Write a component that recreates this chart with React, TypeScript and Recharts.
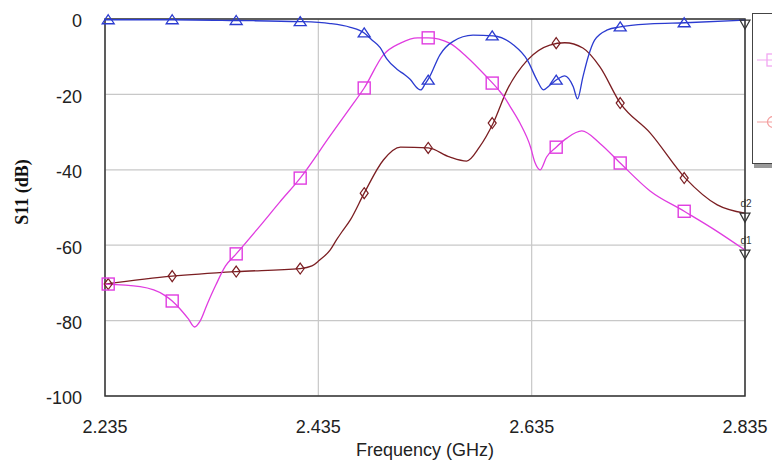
import React from 'react';
import {
  ComposedChart, Line, Scatter, XAxis, YAxis, CartesianGrid, ReferenceArea,
} from 'recharts';

// ---- data ----
const xTicks = [2.235, 2.435, 2.635, 2.835];
const yTicks = [0, -20, -40, -60, -80, -100];

const blueF = [2.235, 2.298, 2.358, 2.418, 2.446, 2.465, 2.478, 2.485, 2.493, 2.499, 2.509, 2.516, 2.521, 2.528, 2.531, 2.535, 2.539, 2.549, 2.561, 2.58, 2.599, 2.618, 2.631, 2.64, 2.646, 2.652, 2.659, 2.666, 2.674, 2.678, 2.683, 2.688, 2.694, 2.706, 2.718, 2.746, 2.779, 2.835];
const blueV = [-0.2, -0.2, -0.4, -0.7, -1.2, -2.2, -3.7, -5.5, -7.6, -10.5, -13.4, -14.8, -16, -18.4, -18.8, -17.3, -15.5, -9.5, -6, -4.3, -4.5, -6.9, -10.9, -16.2, -18.8, -17.6, -16, -15.1, -18, -21.2, -15.4, -10, -5.6, -2.9, -2.1, -1.3, -1.0, -0.3];

const pinkF = [2.235, 2.268, 2.291, 2.298, 2.305, 2.313, 2.319, 2.324, 2.331, 2.339, 2.348, 2.358, 2.38, 2.399, 2.418, 2.446, 2.465, 2.478, 2.496, 2.512, 2.528, 2.538, 2.558, 2.574, 2.593, 2.604, 2.61, 2.615, 2.624, 2.634, 2.638, 2.643, 2.649, 2.658, 2.668, 2.682, 2.699, 2.718, 2.746, 2.778, 2.807, 2.835];
const pinkV = [-70.3, -71, -73.3, -74.8, -76.8, -79.5, -81.7, -80.2, -75.5, -70.5, -65.5, -62.3, -55, -48.5, -42.2, -31, -23.5, -18.3, -9.5, -6.4, -5, -5, -6.4, -10, -15.4, -18.8, -21, -23.3, -27.6, -34, -38, -40, -36.6, -34, -31.6, -29.7, -33, -38.2, -45.6, -51, -56, -61.3];

const brownF = [2.235, 2.298, 2.358, 2.418, 2.429, 2.436, 2.446, 2.452, 2.457, 2.465, 2.478, 2.496, 2.512, 2.538, 2.558, 2.574, 2.586, 2.599, 2.612, 2.631, 2.652, 2.666, 2.683, 2.699, 2.718, 2.746, 2.779, 2.809, 2.835];
const brownV = [-70.3, -68.2, -67, -66.2, -65.5, -64, -61.3, -58.6, -56.5, -53.3, -46.2, -37.4, -34, -34.2, -36.6, -37.7, -34, -27.6, -18.8, -10.9, -6.9, -6.3, -7.7, -12.7, -22.3, -30.2, -42.2, -49.3, -51.5];

const markerF = [2.238, 2.298, 2.358, 2.418, 2.478, 2.538, 2.598, 2.658, 2.718, 2.778];
const blueMarkV = [-0.2, -0.2, -0.4, -0.7, -3.7, -16.2, -4.5, -16.2, -2.1, -1.0];
const pinkMarkV = [-70.3, -74.8, -62.3, -42.2, -18.3, -5, -17, -34, -38.2, -51];
const brownMarkV = [-70.3, -68.2, -67, -66.2, -46.2, -34.2, -27.6, -6.4, -22.3, -42.2];

const endF = [2.835, 2.835, 2.835];
const endV = [-61.3, -51.5, -0.3];
const endLabels = ['d1', 'd2', ''];

const BLUE = '#2b3bd0';
const PINK = '#e03ce0';
const BROWN = '#7b1e22';

const zip = (f: number[], v: number[]) => f.map((x, i) => ({ f: x, v: v[i] }));
const blueData = zip(blueF, blueV);
const pinkData = zip(pinkF, pinkV);
const brownData = zip(brownF, brownV);
const blueMarks = zip(markerF, blueMarkV);
const pinkMarks = zip(markerF, pinkMarkV);
const brownMarks = zip(markerF, brownMarkV);
const endData = endF.map((x, i) => ({ f: x, v: endV[i], label: endLabels[i] }));

const TriUp = (p: any) => (
  <path d={`M${p.cx},${p.cy - 5} L${p.cx + 6},${p.cy + 4} L${p.cx - 6},${p.cy + 4} Z`} fill="none" stroke={BLUE} strokeWidth={1.3} />
);
const Square = (p: any) => (
  <rect x={p.cx - 6} y={p.cy - 6} width={12} height={12} fill="none" stroke={PINK} strokeWidth={1.4} />
);
const Diamond = (p: any) => (
  <path d={`M${p.cx},${p.cy - 5.5} L${p.cx + 4},${p.cy} L${p.cx},${p.cy + 5.5} L${p.cx - 4},${p.cy} Z`} fill="none" stroke={BROWN} strokeWidth={1.2} />
);
const TriDown = (p: any) => (
  <g>
    <path d={`M${p.cx - 5},${p.cy} L${p.cx + 5},${p.cy} L${p.cx},${p.cy + 9} Z`} fill="none" stroke="#333" strokeWidth={1.2} />
    {p.payload && p.payload.label ? (
      <text x={p.cx + 1} y={p.cy - 6} textAnchor="middle" fontSize={10} fill="#333" fontFamily="Liberation Sans, Arial, sans-serif">{p.payload.label}</text>
    ) : null}
  </g>
);

const YLabel = () => (
  <text x={22} y={192} transform="rotate(-90 22 192)" textAnchor="middle" dominantBaseline="central"
    fontFamily="Liberation Serif, Times New Roman, serif" fontWeight="bold" fontSize={18} fill="#111">S11 (dB)</text>
);

const tickStyle = { fontSize: 18, fill: '#222', fontFamily: 'Liberation Sans, Arial, sans-serif' };

export default function App() {
  return (
    <div style={{ position: 'absolute', left: 0, top: 0, width: 772, height: 462, background: '#fff' }}>
      <ComposedChart width={772} height={462} margin={{ top: 19, right: 27, bottom: 0, left: 0 }}>
        <CartesianGrid stroke="#c8c8c8" strokeWidth={1.2} />
        <XAxis type="number" dataKey="f" domain={[2.235, 2.835]} ticks={xTicks}
          tickFormatter={(v: number) => v.toFixed(3)} height={66} tickLine={false} tickSize={0} tickMargin={24}
          axisLine={false} tick={tickStyle} interval={0}
          label={{ value: 'Frequency (GHz)', position: 'insideBottom', offset: 6, style: { fontSize: 18, fill: '#222', fontFamily: 'Liberation Sans, Arial, sans-serif' } }} />
        <YAxis type="number" dataKey="v" domain={[-100, 0]} ticks={yTicks} width={105}
          tickLine={false} tickSize={0} tickMargin={23} axisLine={false} tick={{ ...tickStyle, dy: 2 }} interval={0}
          label={<YLabel />} />
        <Line data={brownData} dataKey="v" type="monotone" stroke={BROWN} strokeWidth={1.3} dot={false} isAnimationActive={false} />
        <Line data={pinkData} dataKey="v" type="monotone" stroke={PINK} strokeWidth={1.3} dot={false} isAnimationActive={false} />
        <Line data={blueData} dataKey="v" type="monotone" stroke={BLUE} strokeWidth={1.3} dot={false} isAnimationActive={false} />
        <Scatter data={brownMarks} dataKey="v" shape={Diamond} isAnimationActive={false} />
        <Scatter data={pinkMarks} dataKey="v" shape={Square} isAnimationActive={false} />
        <Scatter data={blueMarks} dataKey="v" shape={TriUp} isAnimationActive={false} />
        <Scatter data={endData} dataKey="v" shape={TriDown} isAnimationActive={false} />
        <ReferenceArea x1={2.235} x2={2.835} y1={-100} y2={0} fill="none" fillOpacity={0} stroke="#333" strokeWidth={1.5} ifOverflow="visible" />
      </ComposedChart>
      <div style={{ position: 'absolute', left: 752, top: 13, width: 40, height: 149, border: '1.5px solid #444', borderRight: 'none', background: '#fff', boxShadow: '2px 4px 0 #999' }}>
        <svg width={40} height={149} style={{ position: 'absolute', left: 0, top: 0 }}>
          <line x1={4} x2={40} y1={46} y2={46} stroke="#f2a6f2" strokeWidth={1.2} />
          <rect x={14} y={40} width={12} height={12} fill="none" stroke="#f2a6f2" strokeWidth={1.3} />
          <line x1={4} x2={40} y1={108} y2={108} stroke="#f4a0a0" strokeWidth={1.2} />
          <circle cx={20} cy={108} r={5.5} fill="none" stroke="#f4a0a0" strokeWidth={1.3} />
        </svg>
      </div>
    </div>
  );
}
